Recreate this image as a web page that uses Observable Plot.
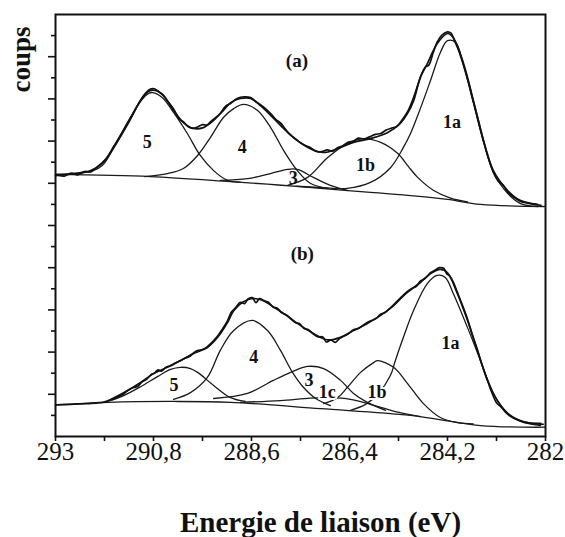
<!DOCTYPE html>
<html>
<head>
<meta charset="utf-8">
<script src="https://cdn.jsdelivr.net/npm/d3@7"></script>
<script src="https://cdn.jsdelivr.net/npm/@observablehq/plot@0.6"></script>
<style>
  html, body { margin: 0; padding: 0; background: #fff; }
</style>
</head>
<body>
<div id="chart"></div>
<script>
// ---- Axis ticks / labels ----
const xTicks = [293, 291.9, 290.8, 289.7, 288.6, 287.5, 286.4, 285.3, 284.2, 283.1, 282];
const xLabelValues = [293, 290.8, 288.6, 286.4, 284.2, 282];
const xLabelTexts = ["293", "290,8", "288,6", "286,4", "284,2", "282"];
const yMajorTicks = [10, 20, 30, 40, 50, 60, 70, 80, 90];
const yMinorTicks = [5, 15, 25, 35, 45, 55, 65, 75, 85, 95];
const xTitle = "Energie de liaison (eV)";
const yTitle = "coups";

// ---- Panel (a): [energy eV, counts (arb.)] ----
const backgroundA = [[293.00,62.1],[290.87,61.6],[289.07,60.4],[288.00,59.6],[287.05,58.8],[286.00,57.9],[285.03,57.1],[284.20,56.2],[283.46,55.0],[282.02,54.5]];
const mesureA = [[292.95,62.0],[292.80,61.7],[292.65,62.4],[292.50,62.0],[292.35,62.8],[292.21,62.7],[292.10,63.6],[291.95,64.9],[291.82,66.4],[291.70,68.6],[291.55,71.2],[291.38,74.4],[291.22,77.3],[291.09,79.7],[290.98,81.3],[290.88,82.3],[290.78,82.4],[290.68,81.7],[290.58,80.9],[290.47,79.3],[290.35,77.6],[290.22,75.2],[290.13,74.6],[290.02,73.4],[289.92,73.0],[289.80,73.4],[289.70,73.9],[289.60,73.8],[289.50,74.8],[289.40,75.6],[289.30,76.6],[289.18,78.3],[289.07,78.9],[288.95,79.9],[288.85,80.4],[288.74,80.5],[288.62,80.3],[288.52,79.5],[288.40,78.6],[288.30,77.8],[288.17,76.5],[288.05,75.1],[287.95,74.3],[287.88,73.4],[287.75,71.7],[287.62,70.6],[287.50,69.6],[287.38,68.9],[287.28,68.5],[287.16,67.6],[287.02,67.5],[286.90,67.9],[286.78,67.6],[286.67,68.4],[286.55,68.9],[286.42,69.8],[286.31,70.0],[286.20,70.7],[286.08,70.5],[285.95,71.0],[285.82,71.6],[285.70,71.8],[285.58,72.6],[285.45,73.1],[285.33,73.5],[285.22,75.0],[285.10,76.9],[284.98,79.8],[284.86,83.5],[284.78,85.9],[284.70,87.5],[284.62,88.0],[284.52,91.0],[284.43,93.5],[284.32,95.2],[284.20,95.9],[284.12,95.6],[284.05,94.0],[283.95,91.5],[283.84,88.0],[283.73,84.0],[283.62,79.4],[283.50,74.6],[283.39,70.0],[283.28,66.0],[283.17,62.6],[283.05,60.4],[282.95,59.6],[282.85,57.9],[282.70,56.6],[282.56,55.7],[282.40,55.3],[282.25,55.0],[282.10,54.8]];
const envelopeA = [[293.00,61.8],[292.60,62.3],[292.21,63.0],[291.95,64.7],[291.70,68.5],[291.38,74.2],[291.09,79.6],[290.91,81.8],[290.76,82.0],[290.58,80.8],[290.35,77.3],[290.13,74.4],[289.90,73.0],[289.68,73.2],[289.45,74.9],[289.23,77.3],[289.07,79.1],[288.85,80.1],[288.62,80.1],[288.40,78.4],[288.17,76.1],[287.88,73.0],[287.57,70.1],[287.28,68.2],[286.98,67.3],[286.67,68.2],[286.31,69.7],[285.93,70.6],[285.55,72.0],[285.26,74.2],[285.10,76.5],[284.96,79.6],[284.81,85.1],[284.65,88.4],[284.43,93.1],[284.20,95.5],[284.07,94.5],[283.84,88.4],[283.62,79.6],[283.39,70.1],[283.17,63.0],[282.85,58.3],[282.56,55.9],[282.18,55.0]];
const peak5A = [[293.00,62.1],[292.21,62.8],[291.95,64.2],[291.70,68.2],[291.38,73.9],[291.09,79.4],[290.91,81.3],[290.82,81.5],[290.60,80.3],[290.35,76.8],[290.04,71.8],[289.75,66.6],[289.45,63.0],[289.14,60.7],[288.85,60.3]];
const peak4A = [[291.00,61.6],[290.49,62.3],[290.13,63.5],[289.81,66.6],[289.52,70.9],[289.23,75.6],[289.00,77.7],[288.78,78.7],[288.47,77.3],[288.17,73.2],[287.88,67.8],[287.57,63.0],[287.28,60.0],[286.89,58.8]];
const peak3A = [[289.30,60.7],[288.69,61.1],[288.17,62.3],[287.79,63.3],[287.57,63.3],[287.21,61.4],[286.83,59.5],[286.45,58.3]];
const peak1bA = [[287.79,59.5],[287.34,61.4],[286.89,66.1],[286.45,69.4],[286.09,70.6],[285.70,69.7],[285.32,67.1],[285.08,64.0],[284.87,61.4],[284.51,58.3],[284.13,56.5],[283.75,55.6]];
const peak1aA = [[287.60,59.3],[286.90,58.9],[286.45,58.8],[285.93,60.2],[285.48,63.7],[285.19,68.5],[285.03,71.8],[284.81,77.7],[284.58,84.4],[284.36,91.0],[284.20,93.8],[284.02,93.4],[283.84,87.9],[283.62,79.1],[283.39,69.7],[283.17,62.6],[282.85,57.6],[282.56,55.2],[282.18,54.5]];

// ---- Panel (b) ----
const backgroundB = [[293.00,7.5],[291.83,8.1],[290.35,8.3],[289.07,8.1],[287.05,6.6],[285.03,5.0],[283.46,2.6],[282.02,2.2]];
const mesureB = [[291.72,8.8],[291.60,9.4],[291.48,10.0],[291.38,10.9],[291.25,11.6],[291.15,11.9],[291.05,13.0],[290.95,13.6],[290.85,14.7],[290.78,15.0],[290.70,15.8],[290.62,15.5],[290.52,16.4],[290.40,16.8],[290.30,17.5],[290.19,18.0],[290.08,18.6],[289.98,19.0],[289.90,19.8],[289.80,20.4],[289.70,20.6],[289.59,21.3],[289.48,22.4],[289.36,23.8],[289.25,25.5],[289.14,27.4],[289.05,29.5],[288.95,30.6],[288.85,31.8],[288.75,31.5],[288.68,32.6],[288.58,32.9],[288.50,31.7],[288.42,32.7],[288.32,32.2],[288.22,31.8],[288.12,30.7],[288.02,30.4],[287.92,29.3],[287.82,28.8],[287.72,27.9],[287.62,27.0],[287.52,26.7],[287.42,25.6],[287.32,25.3],[287.21,24.3],[287.10,23.6],[287.00,23.6],[286.92,22.4],[286.82,22.9],[286.72,22.3],[286.62,23.3],[286.52,23.8],[286.42,24.4],[286.31,25.3],[286.20,25.6],[286.10,26.3],[286.00,27.0],[285.90,27.5],[285.80,28.0],[285.70,29.0],[285.60,29.4],[285.50,30.3],[285.41,31.2],[285.30,32.4],[285.20,33.4],[285.10,34.4],[285.00,35.1],[284.90,35.6],[284.81,36.8],[284.70,37.5],[284.58,38.8],[284.48,39.4],[284.38,40.0],[284.28,39.8],[284.22,38.6],[284.15,38.0],[284.07,36.6],[283.98,34.2],[283.88,31.5],[283.75,27.8],[283.64,24.0],[283.53,20.6],[283.42,16.8],[283.30,13.2],[283.20,10.3],[283.10,8.0],[283.00,7.0],[282.90,5.8],[282.79,4.8],[282.60,3.8],[282.41,3.3],[282.20,3.0],[282.05,2.9]];
const envelopeB = [[293.00,7.5],[292.30,7.8],[291.90,8.2],[291.72,9.0],[291.38,10.9],[291.09,12.8],[290.80,14.9],[290.49,16.4],[290.19,18.0],[289.90,19.7],[289.59,21.1],[289.36,23.5],[289.14,27.0],[289.00,29.8],[288.80,31.8],[288.55,32.7],[288.30,32.0],[288.05,30.3],[287.80,28.6],[287.57,26.8],[287.21,24.4],[286.89,22.9],[286.60,23.5],[286.31,25.1],[286.00,26.8],[285.70,28.7],[285.41,31.0],[285.14,33.8],[284.81,36.5],[284.58,38.6],[284.36,39.6],[284.20,38.8],[283.98,33.9],[283.75,27.5],[283.53,20.4],[283.30,13.3],[283.08,8.5],[282.79,5.0],[282.41,3.3],[282.11,3.1]];
const peak5B = [[291.83,8.3],[291.47,9.7],[291.09,11.8],[290.71,14.2],[290.42,15.9],[290.19,16.4],[289.97,16.1],[289.81,15.2],[289.45,12.1],[289.07,9.2],[288.74,8.3]];
const peak4B = [[290.35,8.8],[289.97,10.4],[289.59,14.0],[289.30,20.4],[289.00,25.1],[288.58,27.5],[288.24,25.1],[287.95,20.4],[287.68,15.2],[287.43,11.6],[287.16,9.0],[286.83,7.3]];
const peak3B = [[289.45,9.0],[288.69,10.2],[288.11,13.3],[287.72,15.2],[287.34,16.6],[286.98,16.1],[286.60,13.3],[286.31,10.2],[286.00,8.1],[285.59,6.2]];
const peak1cB = [[288.85,8.1],[287.95,8.5],[287.28,9.1],[286.83,9.2],[286.38,8.8],[285.93,7.6],[285.37,5.9],[284.81,4.7]];
const peak1bB = [[286.98,7.8],[286.67,9.2],[286.45,11.6],[286.15,15.2],[285.86,17.5],[285.77,18.0],[285.41,16.4],[285.10,12.6],[284.74,7.8],[284.36,4.5],[283.98,3.3],[283.62,3.0]];
const peak1aB = [[286.38,6.2],[286.04,7.6],[285.75,10.2],[285.48,14.5],[285.37,18.0],[285.19,23.5],[284.96,29.9],[284.65,36.3],[284.43,38.2],[284.25,37.7],[284.07,33.9],[283.75,25.8],[283.46,18.0],[283.17,10.2],[282.85,5.5],[282.56,3.6],[282.11,2.6]];

// ---- Labels ----
const panelLabels = [["(a)",287.58,89.1],["(b)",287.46,43.3]];
const peakLabels = [["5",290.94,69.7],["4",288.81,68.6],["3",287.66,61.3],["1b",286.04,64.2],["1a",284.10,74.5],
                    ["5",290.34,12.1],["4",288.55,18.8],["3",287.31,13.3],["1a",284.13,22.0]];
const maskedLabels = [["1c",286.90,10.6],["1b",285.78,10.6]];

// ---- Build table ----
const series = {backgroundA, mesureA, envelopeA, peak5A, peak4A, peak3A, peak1bA, peak1aA,
                backgroundB, mesureB, envelopeB, peak5B, peak4B, peak3B, peak1cB, peak1bB, peak1aB};
const rows = [];
for (const [name, pts] of Object.entries(series)) {
  for (const [E, v] of pts) rows.push({series: name, E, v, thick: name.startsWith("mesure") || name.startsWith("envelope")});
}
const toRows = arr => arr.map(([text, E, v]) => ({text, E, v}));

const serif = "'Liberation Serif', 'DejaVu Serif', serif";

const chart = Plot.plot({
  width: 565,
  height: 537,
  marginLeft: 55,
  marginRight: 20,
  marginTop: 14,
  marginBottom: 101,
  style: {background: "#fff", fontFamily: serif, color: "#111"},
  x: {domain: [293, 282]},
  y: {domain: [0, 100]},
  marks: [
    Plot.line(rows.filter(d => !d.thick), {x: "E", y: "v", z: "series", curve: "catmull-rom", stroke: "#1a1a1a", strokeWidth: 1.3}),
    Plot.line(rows.filter(d => d.thick), {x: "E", y: "v", z: "series", curve: "catmull-rom", stroke: "#111", strokeWidth: 1.7}),
    Plot.frame({stroke: "#111", strokeWidth: 2}),
    Plot.axisX({ticks: xTicks, tickSize: 5, tickFormat: () => "", label: null, strokeWidth: 1.6}),
    Plot.axisX({ticks: xLabelValues, tickSize: 0, tickPadding: 6, tickFormat: d => xLabelTexts[xLabelValues.indexOf(d)], label: null, fontSize: 25, fontFamily: serif}),
    Plot.axisY({ticks: yMajorTicks, tickSize: 7, tickFormat: () => "", label: null, strokeWidth: 1.6}),
    Plot.axisY({ticks: yMinorTicks, tickSize: 4, tickFormat: () => "", label: null, strokeWidth: 1.6}),
    Plot.text(toRows(panelLabels), {x: "E", y: "v", text: "text", fontSize: 19, fontWeight: "bold", fontFamily: serif, fill: "#111"}),
    Plot.text(toRows(peakLabels), {x: "E", y: "v", text: "text", fontSize: 18, fontWeight: "bold", fontFamily: serif, fill: "#111"}),
    Plot.text(toRows(maskedLabels), {x: "E", y: "v", text: "text", fontSize: 18, fontWeight: "bold", fontFamily: serif, fill: "#111", stroke: "#fff", strokeWidth: 4, paintOrder: "stroke"}),
    Plot.text([yTitle], {text: d => d, frameAnchor: "top-left", textAnchor: "middle", lineAnchor: "middle", rotate: -90, dx: -34, dy: 45, fontSize: 27, fontWeight: "bold", fontFamily: serif, fill: "#111"}),
    Plot.text([xTitle], {text: d => d, frameAnchor: "bottom", textAnchor: "middle", lineAnchor: "middle", dx: 20, dy: 86, fontSize: 29, fontWeight: "bold", fontFamily: serif, fill: "#111"})
  ]
});
document.getElementById("chart").appendChild(chart);
</script>
</body>
</html>
